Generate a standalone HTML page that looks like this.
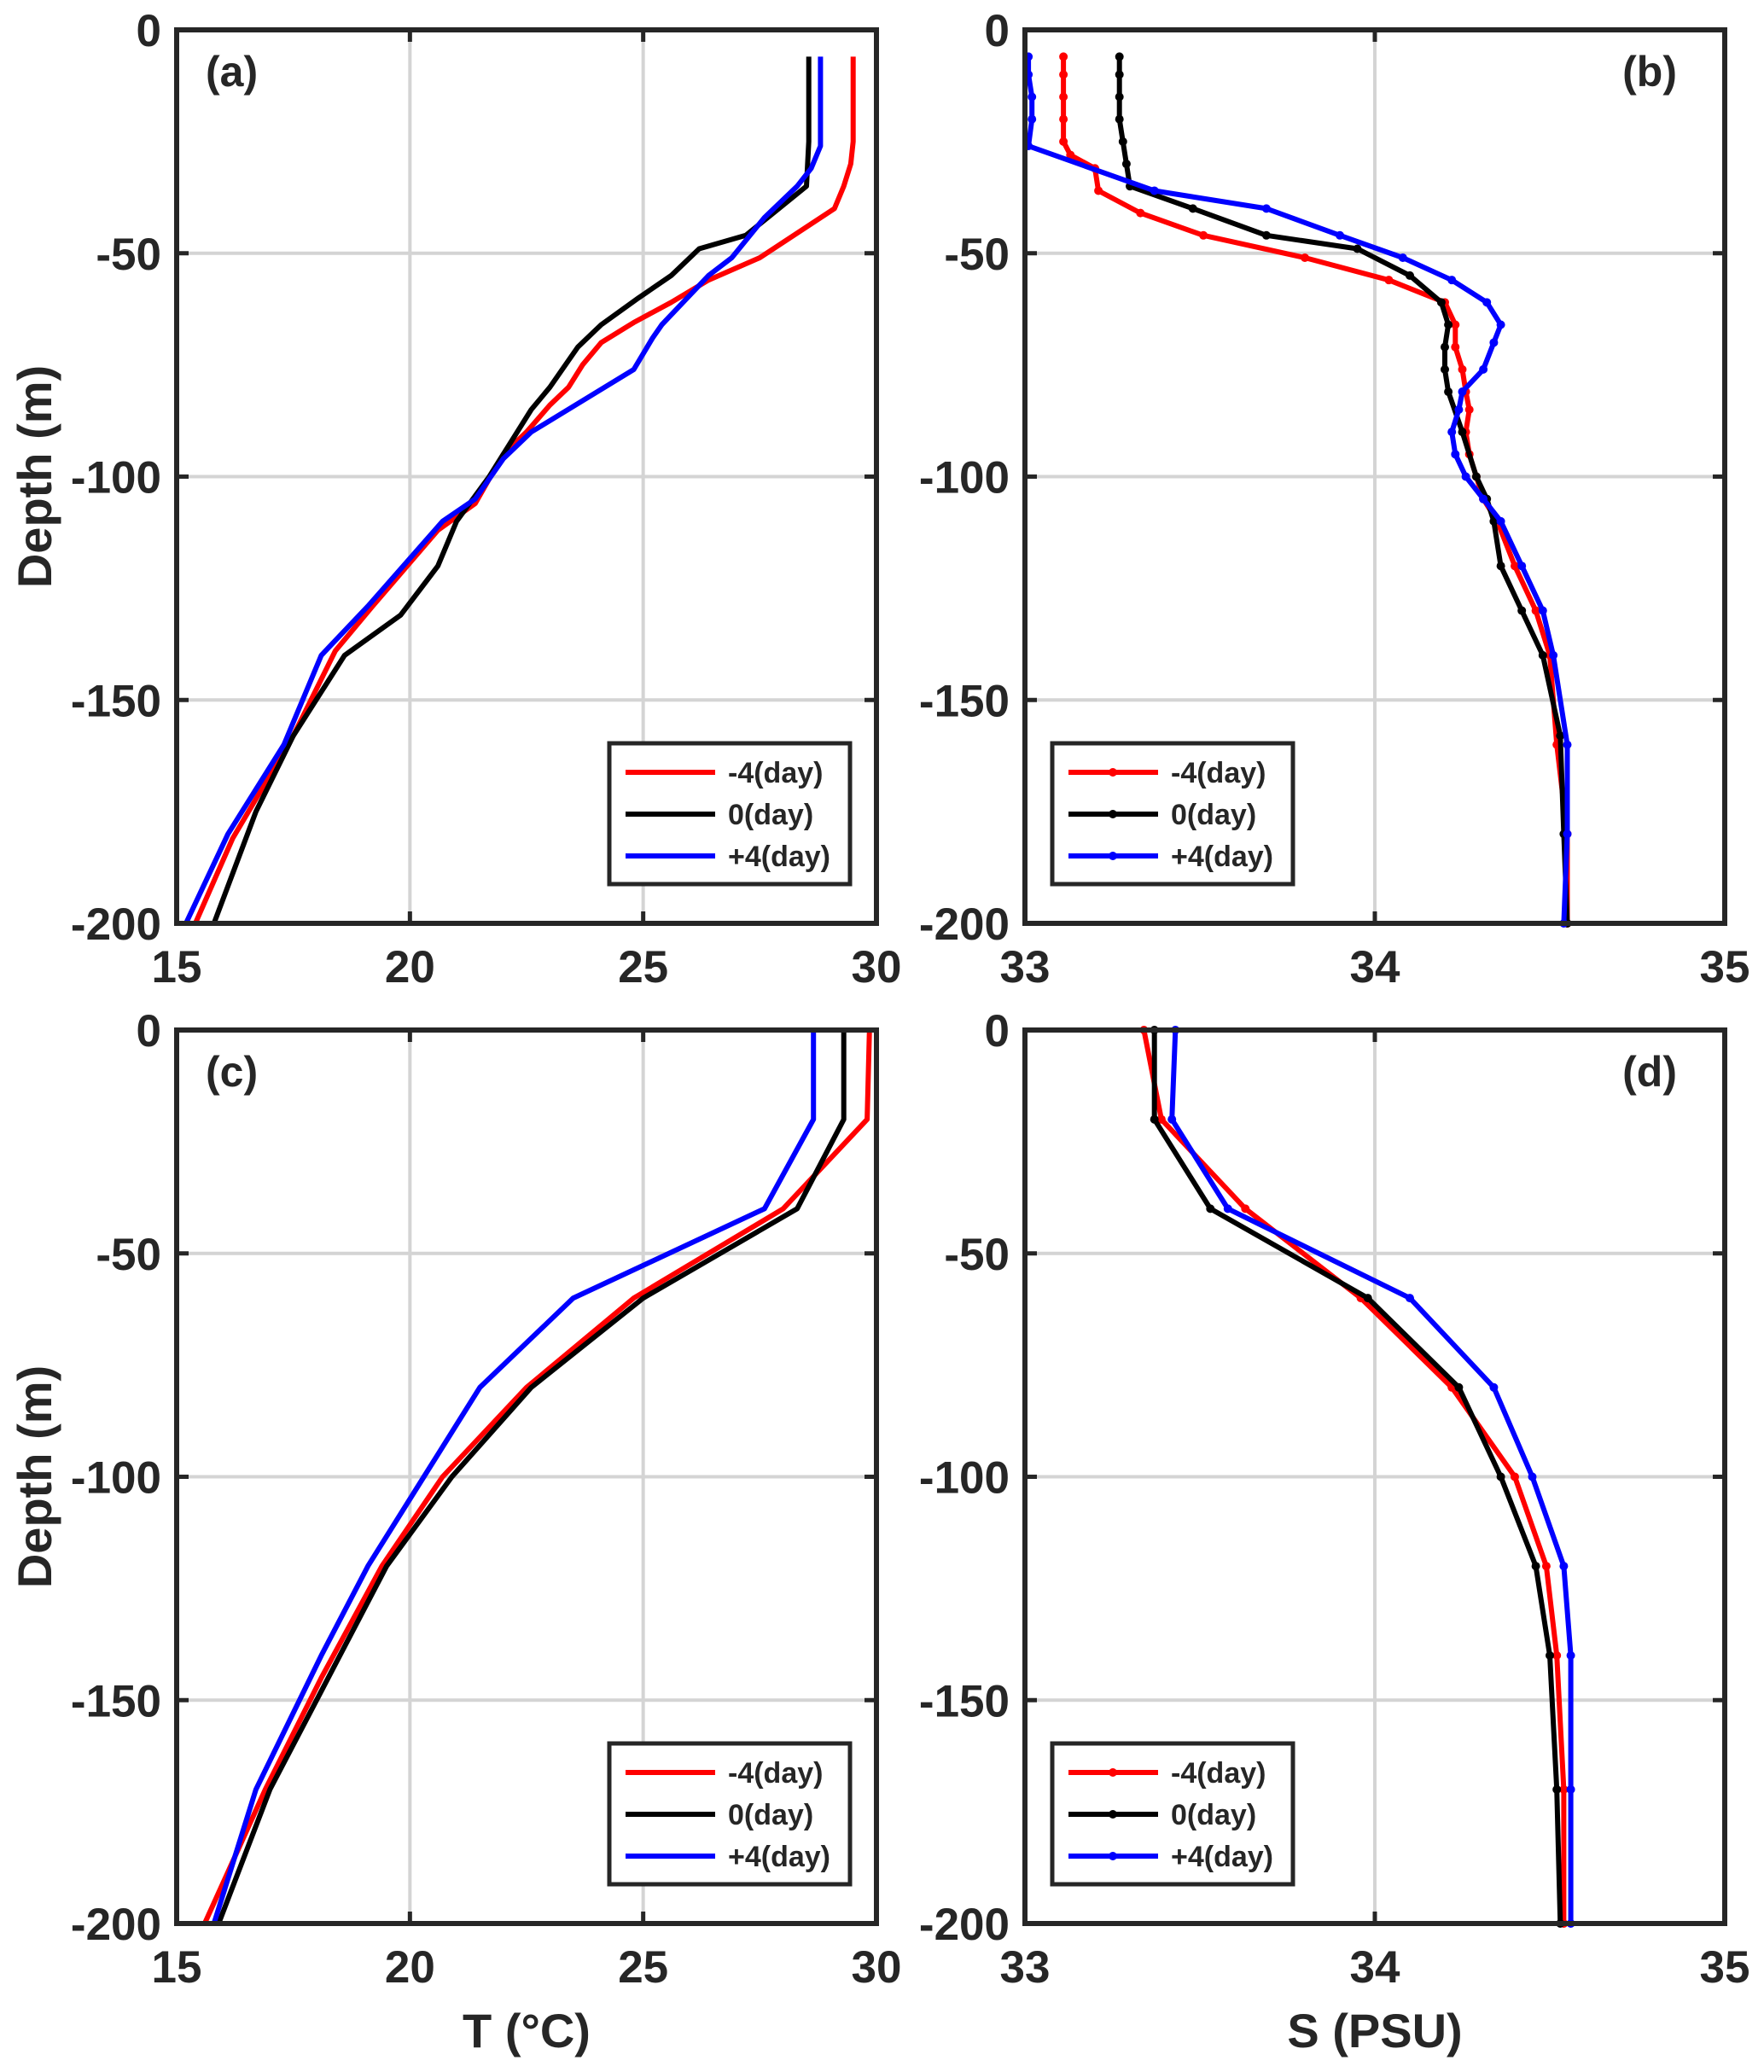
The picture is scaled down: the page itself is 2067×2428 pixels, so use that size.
<!DOCTYPE html>
<html><head><meta charset="utf-8">
<style>
html,body{margin:0;padding:0;background:#fff;}
svg{display:block;}
text{font-family:"Liberation Sans",Arial,sans-serif;font-weight:bold;fill:#262626;}
</style></head>
<body>
<svg id="fig" width="2067" height="2428" viewBox="0 0 2067 2428" xmlns="http://www.w3.org/2000/svg"></svg>
<script>
// Panel (a) temperature
const aRedT=[29.5,29.5,29.45,29.3,29.1,27.5,26.4,25.6,24.8,24.1,23.7,23.4,23.0,22.5,22.0,21.4,20.6,19.2,18.4,17.5,16.2,15.4];
const aRedD=[-6,-25,-30,-35,-40,-51,-56,-61,-65.5,-70,-75,-80,-84,-90,-95,-106,-112,-129,-139,-158,-181,-200];
const aBlkT=[28.55,28.55,28.5,27.2,26.2,25.6,24.9,24.1,23.6,23.0,22.6,21.7,21.0,20.6,19.8,18.6,17.5,16.7,15.8];
const aBlkD=[-6,-25,-35,-46,-49,-55,-60,-66,-71,-80,-85,-100,-110,-120,-131,-140,-158,-175,-200];
const aBluT=[28.8,28.8,28.6,28.3,27.6,26.9,26.4,25.4,25.2,24.8,22.6,22.0,21.4,20.7,19.1,18.1,17.3,16.1,15.2];
const aBluD=[-6,-26,-31,-35,-42,-51,-55,-66,-69,-76,-90,-96,-105,-110,-129,-140,-160,-180,-200];
// Panel (b) salinity
const bRedS=[33.11,33.11,33.11,33.11,33.11,33.13,33.2,33.21,33.33,33.51,33.8,34.04,34.2,34.23,34.23,34.25,34.26,34.27,34.26,34.27,34.29,34.31,34.35,34.4,34.46,34.5,34.52,34.55,34.55];
const bRedD=[-6,-10,-15,-20,-25,-28,-31,-36,-41,-46,-51,-56,-61,-66,-71,-76,-81,-85,-90,-95,-100,-105,-110,-120,-130,-140,-160,-180,-200];
const bBlkS=[33.27,33.27,33.27,33.27,33.28,33.29,33.3,33.48,33.69,33.95,34.1,34.19,34.21,34.2,34.2,34.21,34.25,34.29,34.32,34.34,34.36,34.42,34.48,34.53,34.54,34.55];
const bBlkD=[-6,-10,-15,-20,-25,-30,-35,-40,-46,-49,-55,-61,-66,-71,-76,-81,-90,-100,-105,-110,-120,-130,-140,-158,-180,-200];
const bBluS=[33.01,33.01,33.02,33.02,33.01,33.37,33.69,33.9,34.08,34.22,34.32,34.36,34.34,34.31,34.25,34.24,34.22,34.23,34.26,34.31,34.36,34.42,34.48,34.51,34.55,34.55,34.54];
const bBluD=[-6,-10,-15,-20,-26,-36,-40,-46,-51,-56,-61,-66,-70,-76,-81,-85,-90,-95,-100,-105,-110,-120,-130,-140,-160,-180,-200];
// Panel (c) temperature
const cDepth=[0,-20,-40,-60,-80,-100,-120,-145,-170,-200];
const cRedT=[29.85,29.8,28.0,24.8,22.5,20.7,19.4,18.1,16.9,15.6];
const cDepthB=[0,-20,-40,-60,-80,-100,-120,-140,-170,-200];
const cBlkT=[29.3,29.3,28.3,25.0,22.6,20.9,19.5,18.5,17.0,15.9];
const cBluT=[28.65,28.65,27.6,23.5,21.5,20.3,19.1,18.1,16.7,15.8];
// Panel (d) salinity
const dDepth=[0,-20,-40,-60,-80,-100,-120,-140,-170,-200];
const dRedS=[33.34,33.39,33.63,33.96,34.22,34.4,34.49,34.52,34.54,34.54];
const dBlkS=[33.37,33.37,33.53,33.98,34.24,34.36,34.46,34.5,34.52,34.53];
const dBluS=[33.43,33.42,33.58,34.1,34.34,34.45,34.54,34.56,34.56,34.56];
// Axis ticks
const tTicks=[15,20,25,30];
const sTicks=[33,34,35];
const dTicks=[0,-50,-100,-150,-200];
const legendLabels=['-4(day)','0(day)','+4(day)'];
const colors=['#ff0000','#000000','#0000ff'];

const NS='http://www.w3.org/2000/svg';
const svg=document.getElementById('fig');
function mk(tag,attrs,parent){const e=document.createElementNS(NS,tag);for(const k in attrs)e.setAttribute(k,attrs[k]);(parent||svg).appendChild(e);return e;}

function panel(id,x0,x1,y0,y1,xmin,xmax,xticks,label,labelRight,series,markers,legendLeft,showYlabel,xlabel){
  const g=mk('g',{});
  
  
  const X=v=>x0+(v-xmin)/(xmax-xmin)*(x1-x0);
  const Y=v=>y0+(0-v)/200*(y1-y0);
  xticks.forEach(t=>{if(t>xmin&&t<xmax){const l=mk('line',{x1:X(t),x2:X(t),y1:y0,y2:y1,stroke:'#d4d4d4','stroke-width':4},g);
    }});
  dTicks.forEach(t=>{if(t<0&&t>-200){const l=mk('line',{x1:x0,x2:x1,y1:Y(t),y2:Y(t),stroke:'#d4d4d4','stroke-width':4},g);
    }});
  series.forEach((s,i)=>{
    const pts=s.x.map((v,j)=>X(v).toFixed(1)+','+Y(s.y[j]).toFixed(1)).join(' ');
    const pl=mk('polyline',{points:pts,fill:'none',stroke:colors[i],'stroke-width':6,'stroke-linejoin':'round'},g);
    
    
    if(markers){s.x.forEach((v,j)=>{const c=mk('circle',{cx:X(v),cy:Y(s.y[j]),r:5,fill:colors[i]},g);
      });}
  });
  xticks.forEach(t=>{const tx=X(t);mk('line',{x1:tx,x2:tx,y1:y1,y2:y1-14,stroke:'#262626','stroke-width':5},g);mk('line',{x1:tx,x2:tx,y1:y0,y2:y0+14,stroke:'#262626','stroke-width':5},g);
    const tl=mk('text',{x:tx,y:y1+69,'text-anchor':'middle','font-size':53},g);tl.textContent=t;
    });
  dTicks.forEach(t=>{const ty=Y(t);mk('line',{x1:x0,x2:x0+14,y1:ty,y2:ty,stroke:'#262626','stroke-width':5},g);mk('line',{x1:x1,x2:x1-14,y1:ty,y2:ty,stroke:'#262626','stroke-width':5},g);
    const tl=mk('text',{x:x0-18,y:ty+19,'text-anchor':'end','font-size':53},g);tl.textContent=t;
    });
  const bx=mk('rect',{x:x0,y:y0,width:x1-x0,height:y1-y0,fill:'none',stroke:'#262626','stroke-width':6},g);
  
  const pl=mk('text',{x:labelRight?x1-56:x0+34,y:y0+66,'text-anchor':labelRight?'end':'start','font-size':50},g);
  pl.textContent=label;
  const lx=legendLeft?x0+32:x0+507, ly=y1-211;
  const lg=mk('g',{},g);
  mk('rect',{x:lx,y:ly,width:282,height:165,fill:'#fff',stroke:'#262626','stroke-width':5},lg);
  legendLabels.forEach((lab,i)=>{const ry=ly+34+i*49;
    const e=mk('g',{},lg);
    mk('line',{x1:lx+19,x2:lx+124,y1:ry,y2:ry,stroke:colors[i],'stroke-width':6},e);
    if(markers)mk('circle',{cx:lx+71,cy:ry,r:5,fill:colors[i]},e);
    const t=mk('text',{x:lx+139,y:ry+12,'font-size':34,fill:'#000'},e);t.textContent=lab;});
  if(showYlabel){const yl=mk('text',{x:0,y:0,'text-anchor':'middle','font-size':56,transform:`translate(60,${(y0+y1)/2}) rotate(-90)`},g);
    yl.textContent='Depth (m)';}
  if(xlabel){const xl=mk('text',{x:(x0+x1)/2,y:y1+145,'text-anchor':'middle','font-size':56},g);
    xl.textContent=xlabel;}
}
panel('a',207,1027,35,1082,15,30,tTicks,'(a)',false,[{x:aRedT,y:aRedD},{x:aBlkT,y:aBlkD},{x:aBluT,y:aBluD}],false,false,true,null);
panel('b',1201,2021,35,1082,33,35,sTicks,'(b)',true,[{x:bRedS,y:bRedD},{x:bBlkS,y:bBlkD},{x:bBluS,y:bBluD}],true,true,false,null);
panel('c',207,1027,1207,2254,15,30,tTicks,'(c)',false,[{x:cRedT,y:cDepth},{x:cBlkT,y:cDepthB},{x:cBluT,y:cDepthB}],false,false,true,'T (°C)');
panel('d',1201,2021,1207,2254,33,35,sTicks,'(d)',true,[{x:dRedS,y:dDepth},{x:dBlkS,y:dDepth},{x:dBluS,y:dDepth}],true,true,false,'S (PSU)');
</script>
</body></html>
